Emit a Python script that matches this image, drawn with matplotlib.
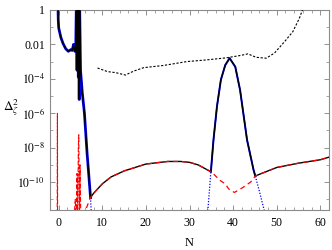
import numpy as np
import matplotlib
matplotlib.use('Agg')
import matplotlib.pyplot as plt
from matplotlib.ticker import FixedLocator, MultipleLocator, NullFormatter

plt.rcParams['font.family'] = ['Liberation Serif', 'DejaVu Serif']
plt.rcParams['mathtext.fontset'] = 'stix'

# total (black solid), log10 values
N_tot = [-0.25, -0.1, 0.0, 0.5, 1.0, 1.6, 2.2, 2.8, 3.1, 3.4, 3.7, 3.9, 4.05, 4.2, 4.35, 4.5,
         4.6, 4.7, 4.8, 5.0, 5.4, 5.9, 6.5, 7.3, 8, 10, 12, 15, 20, 25, 28, 30, 32, 34.9,
         35.5, 36.3, 37.2, 38.2, 39.2, 40.5, 41.6, 43.2, 44.7, 45.1, 46, 50, 55, 60, 62]
lg_tot = [1.0, -0.6, -1.05, -1.6, -1.95, -2.25, -2.4, -2.3, -2.35, -2.0, -2.4, -2.3, 0.5, -3.5, 0.5, -3.9,
          0.5, -5.2, 0.3, -3.5, -4.8, -6.0, -8.3, -10.9, -10.65, -10.1, -9.7, -9.35, -8.95, -8.8, -8.8, -8.85, -9.0, -9.4,
          -7.55, -5.6, -4.05, -3.2, -2.8, -3.3, -4.65, -7.55, -9.3, -9.65, -9.55, -9.15, -8.9, -8.7, -8.55]

# blue component: left part and peak
N_blue_l = [-0.25, -0.1, 0.0, 0.5, 1.0, 1.6, 2.2, 2.8, 3.1, 3.4, 3.7, 3.9, 4.05, 4.2, 4.35, 4.5,
            4.6, 4.7, 4.8, 5.0, 5.4, 5.9, 6.5, 7.3]
lg_blue_l = [1.0, -0.6, -1.05, -1.6, -1.95, -2.25, -2.4, -2.3, -2.35, -2.0, -2.4, -2.3, 0.5, -3.5, 0.5, -3.9,
             0.5, -5.2, 0.3, -3.5, -4.8, -6.0, -8.3, -10.9]
N_blue_lt = [7.3, 7.6]
lg_blue_lt = [-10.9, -12.5]
N_blue_p = [34.9, 35.5, 36.3, 37.2, 38.2, 39.2, 40.5, 41.6, 43.2, 44.7, 45.1]
lg_blue_p = [-9.4, -7.55, -5.6, -4.05, -3.2, -2.8, -3.3, -4.65, -7.55, -9.3, -9.65]
N_blue_t1 = [34.1, 34.9]
lg_blue_t1 = [-12.0, -9.4]
N_blue_t2 = [45.1, 46.0, 47.5]
lg_blue_t2 = [-9.65, -10.5, -12.0]

# red component
N_red = [5.9, 6.5, 7.3, 8, 10, 12, 15, 20, 25, 28, 30, 32, 35, 37, 38.2, 39, 40.3, 42, 42.3, 44, 45.1,
         46, 50, 55, 60, 62]
lg_red = [-12.0, -11.4, -10.9, -10.65, -10.1, -9.7, -9.35, -8.95, -8.8, -8.8, -8.85, -9.0, -9.4, -9.9, -10.1, -10.4,
          -10.6, -10.35, -10.3, -10.0, -9.65, -9.55, -9.15, -8.9, -8.7, -8.55]
N_red_s = [-0.35, -0.3, -0.25, 3.3, 3.8, 4.0, 4.2, 4.35, 4.5, 4.6, 4.75, 4.9, 5.1]
lg_red_s = [-13, -6.0, -13, -13, -11.0, -12.5, -9.5, -12.5, -8.0, -7.25, -12.5, -9.0, -13]

# black dashed
N_dash = [8.9, 11.2, 13.1, 15.3, 17.2, 19.5, 24.1, 29.3, 33.9, 38.4, 41.5, 43.4, 45.3, 47.6,
          49.5, 51.8, 53.7, 55.2, 56.2]
lg_dash = [-3.37, -3.58, -3.64, -3.78, -3.55, -3.35, -3.22, -3.0, -2.9, -2.78, -2.65, -2.55, -2.75, -2.8,
           -2.5, -1.84, -1.26, -0.48, 0.2]

p = lambda a: 10.0 ** np.array(a)

fig = plt.figure(figsize=(3.32, 2.5), dpi=100)
ax = fig.add_axes([0.1506, 0.16, 0.8404, 0.80])

ax.plot(N_blue_l, p(lg_blue_l), color='blue', lw=2.0, zorder=2)
ax.plot(N_blue_p, p(lg_blue_p), color='blue', lw=1.4, zorder=2)
for xx, yy in [(N_blue_lt, lg_blue_lt), (N_blue_t1, lg_blue_t1), (N_blue_t2, lg_blue_t2)]:
    ax.plot(xx, p(yy), color='blue', lw=0.9, ls=(0, (1, 1.3)), zorder=2)
ax.plot(N_red, p(lg_red), color='red', lw=0.9, ls=(0, (4, 3)), zorder=4)
ax.plot(N_red_s, p(lg_red_s), color='red', lw=0.8, ls=(0, (4, 2)), zorder=4)
ax.plot(N_tot, p(lg_tot), color='black', lw=1.0, zorder=3)
ax.plot(N_dash, p(lg_dash), color='black', lw=0.8, ls=(0, (2, 1.5)), zorder=3)

ax.set_yscale('log')
ax.set_xlim(-2, 62)
ax.set_ylim(2.4e-12, 1)
ax.yaxis.set_major_locator(FixedLocator([1, 1e-2, 1e-4, 1e-6, 1e-8, 1e-10]))
ax.set_yticklabels(['1', '0.01', r'$10^{-4}$', r'$10^{-6}$', r'$10^{-8}$', r'$10^{-10}$'])
ax.yaxis.set_minor_locator(FixedLocator([1e-1, 1e-3, 1e-5, 1e-7, 1e-9, 1e-11]))
ax.yaxis.set_minor_formatter(NullFormatter())
ax.xaxis.set_major_locator(MultipleLocator(10))
ax.xaxis.set_minor_locator(MultipleLocator(2))
ax.tick_params(which='both', direction='in', top=True, right=True, labelsize=8.5, color='0.5')
ax.tick_params(which='major', length=3.5, width=0.6)
ax.tick_params(which='minor', length=2, width=0.5)
ax.tick_params(axis='x', pad=5)
for s in ax.spines.values():
    s.set_color('0.55')
    s.set_linewidth(0.8)

ax.set_xlabel('N', fontsize=9, labelpad=6)
fig.text(0.01, 0.568, r'$\Delta_\zeta^2$', fontsize=9.5, va='center', ha='left')

fig.savefig('out.png', dpi=100)
